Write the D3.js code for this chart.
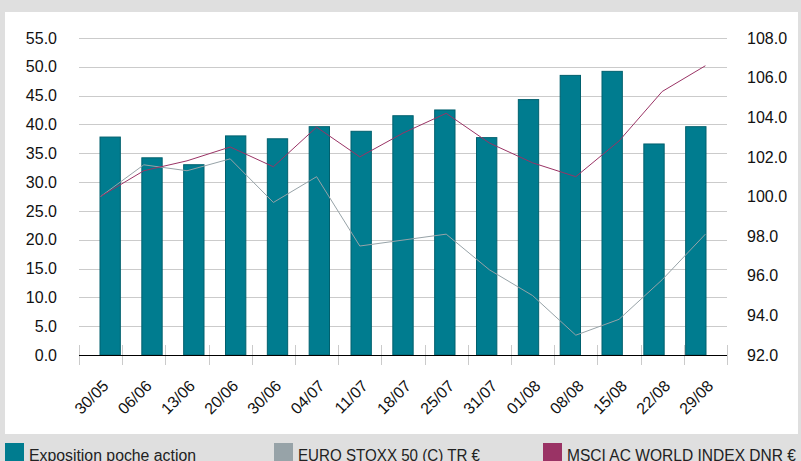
<!DOCTYPE html>
<html>
<head>
<meta charset="utf-8">
<script src="https://cdn.jsdelivr.net/npm/d3@7"></script>
<style>
	body { margin: 0; background: #dfdfdf; }
	svg { display: block; font-family: "Liberation Sans", Arial, sans-serif; }
</style>
</head>
<body>
<svg width="801" height="461"></svg>
<script>
const dates = ['30/05','06/06','13/06','20/06','30/06','04/07','11/07','18/07','25/07','31/07','01/08','08/08','15/08','22/08','29/08'];
const exposition = [37.9,34.3,33.1,38.1,37.6,39.7,38.9,41.6,42.6,37.8,44.4,48.6,49.3,36.7,39.7];
const euroStoxx = [100.0,101.6,101.3,101.9,99.7,101.0,97.5,97.8,98.1,96.3,95.0,93.0,93.8,95.8,98.1];
const msci = [100.0,101.3,101.8,102.5,101.5,103.5,102.0,103.2,104.2,102.7,101.7,101.0,102.8,105.3,106.6];
const leftTicks = d3.range(0, 56, 5);
const rightTicks = d3.range(92, 109, 2);
const legend = [
	{label: 'Exposition poche action', color: '#007c8f', x: 5, w: 167},
	{label: 'EURO STOXX 50 (C) TR €', color: '#97a3a8', x: 274, w: 182},
	{label: 'MSCI AC WORLD INDEX DNR €', color: '#9a3365', x: 543, w: 229}
];

const svg = d3.select('svg');

// white panel
svg.append('rect').attr('x', 5).attr('y', 12).attr('width', 793).attr('height', 422).attr('fill', '#fff');

const plotL = 79, plotR = 727, plotT = 38, plotB = 355;

const x = d3.scaleBand().domain(dates).range([plotL, plotR]).padding(0.49);
const xb = d3.scaleBand().domain(dates).range([plotL, plotR]);
const yL = d3.scaleLinear().domain([0, 55]).range([plotB, plotT]);
const yR = d3.scaleLinear().domain([92, 108]).range([plotB, plotT]);

// grid
svg.append('g').selectAll('line')
	.data(leftTicks.filter(d => d > 0))
	.enter().append('line')
		.attr('x1', plotL).attr('x2', plotR)
		.attr('y1', d => Math.round(yL(d)) + 0.5).attr('y2', d => Math.round(yL(d)) + 0.5)
		.attr('stroke', '#cbcbcb').attr('stroke-width', 1);

// left axis
const axL = svg.append('g').attr('transform', `translate(${plotL},0)`)
	.call(d3.axisLeft(yL).tickValues(leftTicks).tickFormat(d3.format('.1f')).tickSize(0).tickPadding(22));
axL.select('.domain').remove();
axL.selectAll('text').attr('font-size', 16).attr('fill', '#111').style('font-family', 'inherit');

// right axis
const axR = svg.append('g').attr('transform', `translate(${plotR},0)`)
	.call(d3.axisRight(yR).tickValues(rightTicks).tickFormat(d3.format('.1f')).tickSize(0).tickPadding(20));
axR.select('.domain').remove();
axR.selectAll('text').attr('font-size', 16).attr('fill', '#111').style('font-family', 'inherit');

// bars
svg.append('g').selectAll('rect')
	.data(exposition)
	.enter().append('rect')
		.attr('x', (d, i) => x(dates[i]) + 0.5)
		.attr('y', d => yL(d) + 0.5)
		.attr('width', x.bandwidth() - 1)
		.attr('height', d => plotB - yL(d) - 0.5)
		.attr('fill', '#007c8f')
		.attr('stroke', '#00606e')
		.attr('stroke-width', 1);

// x ticks crossing the axis
const bounds = dates.map(d => xb(d)).concat([plotR]);
svg.append('g').selectAll('line')
	.data(bounds)
	.enter().append('line')
		.attr('x1', d => Math.round(d) + 0.5).attr('x2', d => Math.round(d) + 0.5)
		.attr('y1', plotB - 10).attr('y2', plotB + 10)
		.attr('stroke', '#cbcbcb').attr('stroke-width', 1);

svg.append('line')
	.attr('x1', plotL).attr('x2', plotR)
	.attr('y1', plotB + 0.5).attr('y2', plotB + 0.5)
	.attr('stroke', '#000').attr('stroke-width', 1);

// x labels
svg.append('g').selectAll('text')
	.data(dates)
	.enter().append('text')
		.attr('transform', d => `translate(${xb(d) + xb.bandwidth() / 2 + 9},${plotB + 32}) rotate(-45)`)
		.attr('text-anchor', 'end')
		.attr('font-size', 16)
		.attr('fill', '#111')
		.text(d => d);

// lines
const cx = i => xb(dates[i]) + xb.bandwidth() / 2;
const lineGen = d3.line().x((d, i) => cx(i)).y(d => yR(d));
svg.append('path').datum(euroStoxx).attr('d', lineGen)
	.attr('fill', 'none').attr('stroke', '#97a3a8').attr('stroke-width', 1);
svg.append('path').datum(msci).attr('d', lineGen)
	.attr('fill', 'none').attr('stroke', '#9a3365').attr('stroke-width', 1);

// legend
const lg = svg.append('g').selectAll('g')
	.data(legend)
	.enter().append('g')
		.attr('transform', d => `translate(${d.x},443)`);
lg.append('rect').attr('width', 19).attr('height', 19).attr('fill', d => d.color);
lg.append('text').attr('x', 24).attr('y', 17.5).attr('font-size', 16).attr('fill', '#222')
	.attr('textLength', d => d.w).attr('lengthAdjust', 'spacingAndGlyphs')
	.text(d => d.label);
</script>
</body>
</html>
